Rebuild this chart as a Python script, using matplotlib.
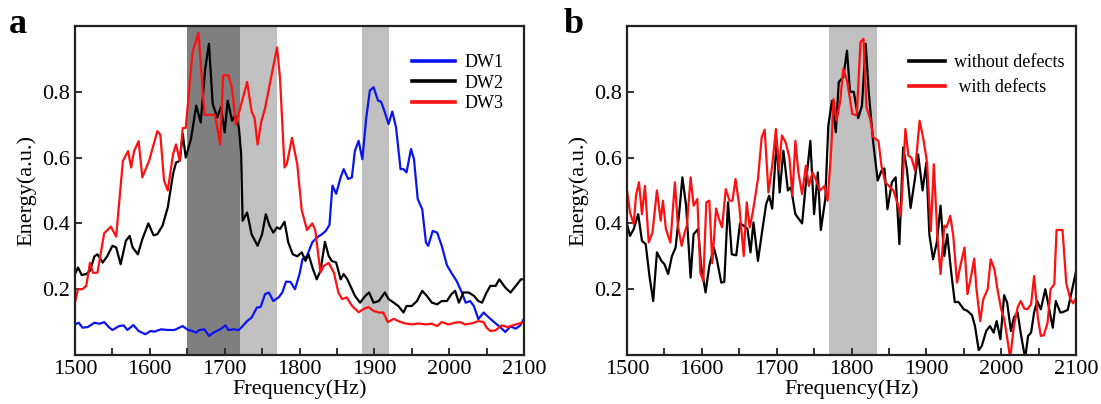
import numpy as np
import matplotlib
matplotlib.use("Agg")
import matplotlib.pyplot as plt
from matplotlib.ticker import MultipleLocator

plt.rcParams['font.family'] = ['Liberation Serif', 'DejaVu Serif']
plt.rcParams['mathtext.fontset'] = 'stix'

# ---- panel a : (frequency Hz, energy a.u.) ----
dw1 = [(1500, 0.093), (1505, 0.098), (1510, 0.083), (1517, 0.085), (1526, 0.098), (1533, 0.095),
       (1539, 0.10), (1546, 0.083), (1550, 0.076), (1559, 0.088), (1565, 0.09), (1570, 0.076),
       (1578, 0.091), (1585, 0.073), (1594, 0.063), (1601, 0.073), (1606, 0.071), (1615, 0.078),
       (1624, 0.076), (1633, 0.076), (1644, 0.088), (1651, 0.076), (1657, 0.073), (1662, 0.068),
       (1666, 0.076), (1673, 0.078), (1679, 0.058), (1685, 0.068), (1694, 0.078), (1701, 0.09),
       (1705, 0.076), (1712, 0.078), (1719, 0.076), (1724, 0.088), (1730, 0.103), (1736, 0.114),
       (1743, 0.144), (1748, 0.146), (1754, 0.185), (1759, 0.19), (1765, 0.164), (1772, 0.175),
       (1777, 0.19), (1782, 0.223), (1788, 0.222), (1794, 0.20), (1800, 0.246), (1804, 0.291),
       (1810, 0.301), (1817, 0.342), (1823, 0.357), (1830, 0.367), (1835, 0.377), (1840, 0.395),
       (1844, 0.515), (1849, 0.49), (1855, 0.54), (1859, 0.565), (1865, 0.535), (1870, 0.54),
       (1874, 0.62), (1879, 0.651), (1884, 0.595), (1889, 0.717), (1894, 0.804), (1899, 0.814),
       (1905, 0.773), (1909, 0.77), (1914, 0.738), (1919, 0.702), (1924, 0.74), (1929, 0.692),
       (1935, 0.565), (1939, 0.565), (1943, 0.555), (1949, 0.626), (1953, 0.595), (1958, 0.474),
       (1964, 0.443), (1969, 0.342), (1972, 0.332), (1978, 0.377), (1984, 0.372), (1990, 0.332),
       (1997, 0.273), (2004, 0.246), (2010, 0.225), (2017, 0.19), (2022, 0.159), (2028, 0.164),
       (2033, 0.149), (2039, 0.109), (2046, 0.129), (2053, 0.114), (2060, 0.10), (2068, 0.085),
       (2075, 0.07), (2082, 0.087), (2089, 0.08), (2095, 0.09), (2100, 0.11)]

dw2 = [(1500, 0.246), (1504, 0.266), (1509, 0.243), (1515, 0.246), (1520, 0.256), (1526, 0.30),
       (1530, 0.306), (1537, 0.281), (1543, 0.30), (1550, 0.332), (1555, 0.327), (1561, 0.276),
       (1568, 0.347), (1573, 0.362), (1577, 0.327), (1584, 0.306), (1590, 0.352), (1598, 0.40),
       (1605, 0.364), (1610, 0.367), (1617, 0.393), (1624, 0.449), (1631, 0.55), (1635, 0.585),
       (1640, 0.59), (1644, 0.672), (1648, 0.60), (1655, 0.657), (1662, 0.758), (1668, 0.707),
       (1674, 0.87), (1679, 0.946), (1684, 0.763), (1690, 0.722), (1695, 0.753), (1700, 0.677),
       (1704, 0.773), (1710, 0.712), (1714, 0.728), (1719, 0.692), (1722, 0.611), (1724, 0.408),
       (1730, 0.433), (1736, 0.367), (1744, 0.332), (1750, 0.367), (1755, 0.428), (1760, 0.393),
       (1765, 0.372), (1770, 0.388), (1774, 0.383), (1780, 0.405), (1785, 0.342), (1791, 0.306),
       (1797, 0.30), (1803, 0.312), (1808, 0.286), (1812, 0.306), (1818, 0.261), (1823, 0.23),
       (1828, 0.256), (1834, 0.344), (1839, 0.301), (1843, 0.286), (1849, 0.281), (1855, 0.23),
       (1859, 0.246), (1864, 0.23), (1868, 0.21), (1874, 0.18), (1881, 0.159), (1888, 0.18),
       (1893, 0.19), (1899, 0.159), (1906, 0.164), (1914, 0.19), (1919, 0.17), (1926, 0.159),
       (1932, 0.149), (1939, 0.129), (1943, 0.149), (1950, 0.149), (1957, 0.164), (1964, 0.195),
       (1970, 0.18), (1977, 0.159), (1984, 0.154), (1990, 0.164), (1997, 0.164), (2003, 0.185),
       (2008, 0.195), (2013, 0.159), (2019, 0.19), (2026, 0.19), (2033, 0.18), (2039, 0.164),
       (2044, 0.159), (2050, 0.19), (2055, 0.21), (2062, 0.21), (2067, 0.23), (2075, 0.205),
       (2082, 0.19), (2089, 0.21), (2096, 0.23), (2100, 0.23)]

dw3 = [(1500, 0.16), (1504, 0.20), (1510, 0.20), (1515, 0.21), (1520, 0.28), (1524, 0.25),
       (1530, 0.25), (1539, 0.37), (1548, 0.39), (1555, 0.36), (1564, 0.59), (1571, 0.62),
       (1575, 0.57), (1579, 0.62), (1585, 0.65), (1590, 0.54), (1599, 0.59), (1610, 0.68),
       (1614, 0.67), (1619, 0.53), (1624, 0.50), (1631, 0.61), (1635, 0.64), (1640, 0.59),
       (1644, 0.69), (1648, 0.69), (1657, 0.92), (1665, 0.98), (1673, 0.73), (1687, 0.73),
       (1694, 0.64), (1698, 0.85), (1705, 0.85), (1710, 0.81), (1715, 0.70), (1723, 0.77),
       (1730, 0.83), (1736, 0.74), (1740, 0.72), (1744, 0.64), (1749, 0.71), (1754, 0.75),
       (1770, 0.935), (1774, 0.84), (1780, 0.57), (1783, 0.58), (1790, 0.66), (1797, 0.58),
       (1803, 0.44), (1810, 0.38), (1817, 0.40), (1821, 0.38), (1828, 0.25), (1832, 0.27),
       (1839, 0.28), (1846, 0.25), (1852, 0.19), (1857, 0.17), (1863, 0.175), (1870, 0.15),
       (1879, 0.13), (1886, 0.14), (1892, 0.146), (1899, 0.134), (1906, 0.129), (1912, 0.129),
       (1918, 0.10), (1926, 0.11), (1932, 0.103), (1941, 0.096), (1950, 0.093), (1959, 0.096),
       (1968, 0.093), (1977, 0.095), (1984, 0.088), (1990, 0.10), (1999, 0.093), (2008, 0.098),
       (2015, 0.10), (2021, 0.093), (2030, 0.096), (2039, 0.103), (2046, 0.10), (2050, 0.083),
       (2055, 0.073), (2062, 0.075), (2070, 0.09), (2078, 0.085), (2085, 0.09), (2092, 0.095),
       (2100, 0.10)]

# ---- panel b ----
no_defects = [(1500, 0.398), (1504, 0.362), (1509, 0.383), (1515, 0.428), (1520, 0.347),
              (1525, 0.337), (1530, 0.24), (1535, 0.164), (1540, 0.312), (1546, 0.286),
              (1550, 0.276), (1555, 0.246), (1560, 0.30), (1565, 0.327), (1570, 0.438),
              (1574, 0.54), (1579, 0.454), (1585, 0.235), (1589, 0.367), (1595, 0.383),
              (1599, 0.271), (1605, 0.19), (1610, 0.271), (1616, 0.327), (1620, 0.291),
              (1626, 0.22), (1630, 0.222), (1635, 0.464), (1640, 0.306), (1646, 0.303),
              (1651, 0.40), (1656, 0.393), (1661, 0.383), (1665, 0.312), (1669, 0.403),
              (1675, 0.286), (1680, 0.367), (1686, 0.459), (1690, 0.484), (1694, 0.445),
              (1700, 0.651), (1704, 0.494), (1709, 0.621), (1715, 0.50), (1719, 0.51),
              (1725, 0.428), (1734, 0.40), (1739, 0.52), (1745, 0.651), (1750, 0.428),
              (1755, 0.555), (1759, 0.38), (1765, 0.474), (1769, 0.697), (1774, 0.773),
              (1779, 0.677), (1783, 0.83), (1789, 0.844), (1794, 0.925), (1798, 0.80),
              (1803, 0.80), (1809, 0.72), (1814, 0.758), (1819, 0.946), (1823, 0.80),
              (1829, 0.646), (1835, 0.53), (1840, 0.56), (1844, 0.567), (1848, 0.443),
              (1854, 0.525), (1859, 0.54), (1864, 0.337), (1869, 0.631), (1874, 0.565),
              (1879, 0.447), (1885, 0.54), (1889, 0.61), (1895, 0.50), (1900, 0.585),
              (1904, 0.367), (1909, 0.291), (1914, 0.342), (1919, 0.454), (1924, 0.301),
              (1928, 0.367), (1933, 0.256), (1938, 0.161), (1943, 0.161), (1950, 0.139),
              (1955, 0.134), (1961, 0.121), (1965, 0.088), (1970, 0.015), (1974, 0.027),
              (1980, 0.073), (1985, 0.088), (1990, 0.068), (1994, 0.103), (1999, 0.048),
              (2004, 0.182), (2008, 0.159), (2013, 0.073), (2017, 0.114), (2022, 0.129),
              (2026, 0.068), (2032, -0.01), (2036, 0.058), (2040, 0.068), (2044, 0.129),
              (2048, 0.164), (2053, 0.139), (2059, 0.20), (2063, 0.154), (2069, 0.083),
              (2073, 0.164), (2079, 0.129), (2082, 0.13), (2089, 0.137), (2094, 0.19),
              (2100, 0.254)]

with_defects = [(1500, 0.50), (1504, 0.433), (1509, 0.398), (1512, 0.484), (1516, 0.525),
                (1520, 0.428), (1524, 0.514), (1529, 0.342), (1534, 0.372), (1540, 0.50),
                (1545, 0.408), (1548, 0.469), (1552, 0.383), (1558, 0.342), (1564, 0.525),
                (1568, 0.393), (1573, 0.332), (1577, 0.372), (1580, 0.393), (1585, 0.54),
                (1589, 0.454), (1594, 0.474), (1598, 0.25), (1602, 0.225), (1606, 0.464),
                (1610, 0.469), (1614, 0.279), (1619, 0.445), (1623, 0.413), (1627, 0.388),
                (1632, 0.504), (1637, 0.469), (1641, 0.469), (1645, 0.535), (1650, 0.454),
                (1656, 0.301), (1660, 0.464), (1664, 0.388), (1668, 0.433), (1675, 0.535),
                (1680, 0.662), (1684, 0.685), (1689, 0.494), (1694, 0.575), (1699, 0.687),
                (1703, 0.565), (1707, 0.667), (1712, 0.646), (1717, 0.60), (1721, 0.484),
                (1725, 0.651), (1729, 0.555), (1734, 0.489), (1739, 0.575), (1743, 0.514),
                (1748, 0.555), (1752, 0.535), (1758, 0.50), (1764, 0.514), (1768, 0.469),
                (1773, 0.626), (1776, 0.778), (1780, 0.712), (1785, 0.773), (1789, 0.87),
                (1794, 0.834), (1798, 0.778), (1801, 0.733), (1807, 0.728), (1812, 0.951),
                (1816, 0.961), (1820, 0.753), (1825, 0.717), (1829, 0.662), (1836, 0.651),
                (1840, 0.575), (1845, 0.525), (1850, 0.514), (1856, 0.50), (1861, 0.464),
                (1866, 0.423), (1872, 0.687), (1876, 0.606), (1880, 0.60), (1885, 0.56),
                (1891, 0.712), (1896, 0.657), (1901, 0.585), (1906, 0.377), (1910, 0.58),
                (1915, 0.352), (1919, 0.246), (1924, 0.393), (1927, 0.388), (1932, 0.423),
                (1936, 0.362), (1941, 0.22), (1945, 0.266), (1951, 0.327), (1955, 0.185),
                (1959, 0.23), (1964, 0.293), (1967, 0.20), (1972, 0.103), (1976, 0.169),
                (1982, 0.20), (1986, 0.291), (1991, 0.261), (1995, 0.20), (2000, 0.139),
                (2004, 0.109), (2008, 0.053), (2012, -0.01), (2017, 0.088), (2022, 0.144),
                (2026, 0.164), (2031, 0.141), (2035, 0.139), (2040, 0.154), (2044, 0.24),
                (2049, 0.114), (2053, 0.058), (2057, 0.06), (2062, 0.098), (2066, 0.20),
                (2071, 0.215), (2074, 0.38), (2079, 0.38), (2082, 0.38), (2087, 0.218),
                (2092, 0.173), (2096, 0.157), (2100, 0.173)]

bands_a = [(1650, 1720, '#7f7f7f'), (1720, 1770, '#c0c0c0'), (1884, 1920, '#c0c0c0')]
bands_b = [(1770, 1834, '#c0c0c0')]


def style_axes(ax):
    ax.set_xlim(1500, 2100)
    ax.set_ylim(0, 1.0)
    ax.xaxis.set_major_locator(MultipleLocator(100))
    ax.xaxis.set_minor_locator(MultipleLocator(50))
    ax.set_yticks([0.2, 0.4, 0.6, 0.8])
    ax.set_yticklabels(['0.2', '0.4', '0.6', '0.8'])
    ax.tick_params(which='both', direction='in', length=5, width=1.3, labelsize=16,
                   top=False, right=False, color='#222222')
    for s in ax.spines.values():
        s.set_linewidth(1.6)
        s.set_color('#222222')
    ax.set_xlabel('Frequency(Hz)', fontsize=16, labelpad=0)
    ax.set_ylabel('Energy(a.u.)', fontsize=16, labelpad=4)


fig = plt.figure(figsize=(11.01, 4.04), dpi=100)
ax1 = fig.add_axes([75 / 1101, 49 / 404, 449 / 1101, 329 / 404])
ax2 = fig.add_axes([627 / 1101, 49 / 404, 449 / 1101, 329 / 404])

for lo, hi, c in bands_a:
    ax1.axvspan(lo, hi, color=c, lw=0, zorder=0)
for name, data, c in [('DW1', dw1, '#0a14f0'), ('DW2', dw2, 'black'), ('DW3', dw3, '#ff1010')]:
    f, e = np.array(data).T
    ax1.plot(f, e, color=c, lw=1.6, label=name)
style_axes(ax1)
leg = ax1.legend(loc='upper left', bbox_to_anchor=(0.75, 0.915), frameon=False, fontsize=13,
                 handlelength=2.4, handletextpad=0.5, labelspacing=0.2, borderpad=0, borderaxespad=0)
for h in leg.legend_handles:
    h.set_linewidth(2.6)

for lo, hi, c in bands_b:
    ax2.axvspan(lo, hi, color=c, lw=0, zorder=0)
for name, data, c in [('without defects', no_defects, 'black'), (' with defects', with_defects, '#ff1010')]:
    f, e = np.array(data).T
    ax2.plot(f, e, color=c, lw=1.6, label=name)
style_axes(ax2)
leg = ax2.legend(loc='upper left', bbox_to_anchor=(0.628, 0.915), frameon=False, fontsize=13,
                 handlelength=2.0, handletextpad=0.5, labelspacing=0.45, borderpad=0, borderaxespad=0)
for h in leg.legend_handles:
    h.set_linewidth(2.6)

fig.text(0.008, 0.94, 'a', fontsize=26, fontweight='bold', va='center', ha='left')
fig.text(0.512, 0.94, 'b', fontsize=26, fontweight='bold', va='center', ha='left')

fig.savefig('out.png', dpi=100)
